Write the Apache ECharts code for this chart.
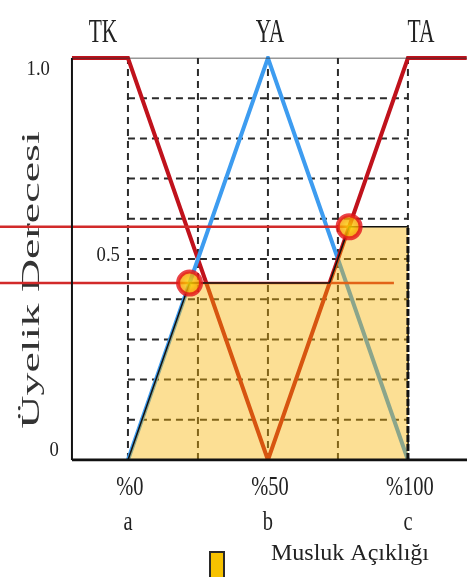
<!DOCTYPE html>
<html>
<head>
<meta charset="utf-8">
<script src="https://cdn.jsdelivr.net/npm/echarts@6/dist/echarts.min.js"></script>
<style>
  html, body { margin: 0; padding: 0; background: #fff; }
  #chart { width: 467px; height: 577px; }
</style>
</head>
<body>
<div id="chart"></div>
<script>
// Tap opening (x, in %) against membership degree (y)
const xTicks = [0, 50, 100];
const xTickPct = ['%0', '%50', '%100'];
const xTickSym = ['a', 'b', 'c'];
const yTicks = [0, 0.5, 1.0];
const yTickText = ['0', '0.5', '1.0'];

// Fuzzy sets: TK (closed), YA (half open), TA (fully open)
const setNames = ['TK', 'YA', 'TA'];
const tkX = [-20, 0, 50];   const tkY = [1, 1, 0];
const yaX = [0, 50, 100];   const yaY = [0, 1, 0];
const taX = [50, 100, 121]; const taY = [0, 1, 1];

// Firing strengths and where each cut meets its set
const cutLevels = [0.44, 0.58];
const cutEnds = [95, 79];
const hitX = [22, 79];
const hitY = [0.44, 0.58];

// Aggregated output region (upper outline)
const outName = 'Musluk Açıklığı';
const outX = [0, 22, 72, 79, 100];
const outY = [0, 0.44, 0.44, 0.58, 0.58];

// Dashed reference grid
const gridXs = [0, 25, 50, 75, 100];
const gridYs = [0.1, 0.2, 0.3, 0.4, 0.5, 0.6, 0.7, 0.8, 0.9];

const pairs = (xs, ys) => xs.map((x, i) => [x, ys[i]]);
const SERIF = '"Liberation Serif", "Times New Roman", serif';
const TEXT = '#222';
const RED = '#c0121c';
const BLUE = '#3d9cf0';

// plotting frame: the value axis spans the whole page width,
// the drawn frame starts at x = -20
const X_MIN = -45.7, X_MAX = 121.1, FRAME_L = -20;

const series = [];
const frame = (data, width, color) => series.push({
  type: 'line', silent: true, symbol: 'none', z: 8,
  data, lineStyle: { color, width }
});
frame([[FRAME_L, 0], [FRAME_L, 1]], 2, '#111');
frame([[FRAME_L, 1], [X_MAX, 1]], 1, '#333');
frame([[FRAME_L, 0], [X_MAX, 0]], 3, '#111');

const dash = { color: '#2b2b2b', width: 2, type: [7, 5] };
gridXs.forEach(x => series.push({
  type: 'line', silent: true, symbol: 'none', z: 1,
  data: [[x, 0], [x, 1]], lineStyle: dash
}));
gridYs.forEach(y => series.push({
  type: 'line', silent: true, symbol: 'none', z: 1,
  data: [[gridXs[0], y], [gridXs[gridXs.length - 1], y]], lineStyle: dash
}));

// membership functions
[[tkX, tkY, RED], [yaX, yaY, BLUE], [taX, taY, RED]].forEach(([xs, ys, c]) => series.push({
  type: 'line', silent: true, symbol: 'none', z: 2,
  data: pairs(xs, ys), lineStyle: { color: c, width: 4, join: 'miter' }
}));

// horizontal cuts, running in from the page's left edge
cutLevels.forEach((lvl, i) => series.push({
  type: 'line', silent: true, symbol: 'none', z: 3,
  data: [[X_MIN, lvl], [cutEnds[i], lvl]],
  lineStyle: { color: '#d22a2a', width: 2.5 }
}));

// output set, translucent so the curves show through
series.push({
  type: 'line', name: outName, silent: true, symbol: 'none', z: 4,
  data: pairs(outX, outY),
  lineStyle: { color: '#111', width: 1.5 },
  areaStyle: { color: 'rgba(249,178,0,0.6)', origin: 'start' }
});
const lastX = outX[outX.length - 1], lastY = outY[outY.length - 1];
series.push({
  type: 'line', silent: true, symbol: 'none', z: 5,
  data: [[lastX, 0], [lastX, lastY]],
  lineStyle: { color: '#111', width: 3, type: [7, 2] }
});

// intersection markers
series.push({
  type: 'scatter', silent: true, z: 6, symbolSize: 23,
  data: pairs(hitX, hitY),
  itemStyle: {
    color: { type: 'radial', x: 0.5, y: 0.5, r: 0.5,
      colorStops: [{ offset: 0, color: '#ffe000' }, { offset: 1, color: '#f28000' }] },
    borderColor: '#e3141c', borderWidth: 4
  }
});

// x tick labels (percent on top, symbol below)
series.push({
  type: 'custom', silent: true, z: 7,
  data: xTicks.map(x => [x, 0]),
  renderItem: (params, api) => {
    const i = params.dataIndex;
    const p = api.coord([api.value(0), 0]);
    const st = t => ({ text: t, fill: TEXT, fontSize: 28, fontFamily: SERIF, align: 'center', verticalAlign: 'middle' });
    return { type: 'group', children: [
      { type: 'text', x: p[0] + 2, y: p[1] + 28, scaleX: 0.73, style: st(xTickPct[i]) },
      { type: 'text', x: p[0], y: p[1] + 63, scaleX: 0.73, style: st(xTickSym[i]) }
    ] };
  }
});

// y tick labels
const yShift = { '0': [-13, -10], '0.5': [48, -4], '1': [-22, 11] };
series.push({
  type: 'custom', silent: true, z: 7,
  data: yTicks.map(v => [FRAME_L, v]),
  renderItem: (params, api) => {
    const i = params.dataIndex;
    const v = api.value(1);
    const p = api.coord([api.value(0), v]);
    const s = yShift[String(v)];
    return { type: 'text', x: p[0] + s[0], y: p[1] + s[1], scaleX: 0.85,
      style: { text: yTickText[i], fill: TEXT, fontSize: 22, fontFamily: SERIF, align: 'right', verticalAlign: 'middle' } };
  }
});

const setLabelX = [103, 270, 421];
const chart = echarts.init(document.getElementById('chart'), null, { renderer: 'canvas' });
chart.setOption({
  animation: false,
  backgroundColor: '#fff',
  grid: { left: 0, right: 0, top: 58, bottom: 117 },
  xAxis: {
    type: 'value', min: X_MIN, max: X_MAX,
    axisLine: { show: false }, axisTick: { show: false },
    axisLabel: { show: false }, splitLine: { show: false }
  },
  yAxis: {
    type: 'value', min: 0, max: 1,
    axisLine: { show: false }, axisTick: { show: false },
    axisLabel: { show: false }, splitLine: { show: false }
  },
  graphic: [
    ...setNames.map((n, i) => ({
      type: 'text', x: setLabelX[i], y: 33, scaleX: 0.65, silent: true,
      style: { text: n, fill: TEXT, fontSize: 33, fontFamily: SERIF, align: 'center', verticalAlign: 'middle' }
    })),
    { type: 'text', x: 32, y: 280, rotation: Math.PI / 2, scaleY: 0.56, silent: true,
      style: { text: 'Üyelik Derecesi', fill: '#333', fontSize: 46, fontFamily: SERIF, align: 'center', verticalAlign: 'middle' } },
    // key for the output set
    { type: 'rect', left: 209, top: 551, silent: true,
      shape: { width: 14, height: 30 },
      style: { fill: '#f7c200', stroke: '#2a2a2a', lineWidth: 2 } },
    { type: 'text', x: 271, y: 554, silent: true,
      style: { text: outName, fill: TEXT, fontSize: 24, fontFamily: SERIF, align: 'left', verticalAlign: 'middle' } }
  ],
  series
});
</script>
</body>
</html>
